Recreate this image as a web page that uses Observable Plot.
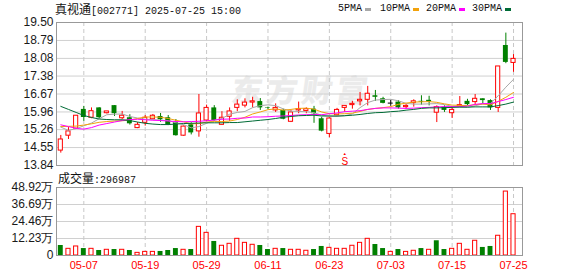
<!DOCTYPE html>
<html>
<head>
<meta charset="utf-8">
<script src="https://cdn.jsdelivr.net/npm/d3@7"></script>
<script src="https://cdn.jsdelivr.net/npm/@observablehq/plot@0.6"></script>
<style>
  html, body { margin: 0; padding: 0; background: #fff; }
  #wrap { position: relative; width: 578px; height: 276px; overflow: hidden; background: #fff; }
  #wrap svg { position: absolute; left: 0; }
  .t { position: absolute; white-space: nowrap; line-height: 14px; height: 14px; color: #111; }
  .cjk { font-family: "Noto Sans CJK SC", sans-serif; font-size: 12px; }
  .mono { font-family: "Liberation Mono", "DejaVu Sans Mono", monospace; font-size: 10px; }
  .sw { position: absolute; width: 6px; height: 3px; }
  #wm { position: absolute; left: 232px; top: 66px; font-family: "Noto Sans CJK SC", sans-serif; font-weight: 900;
        font-size: 31px; color: #ebebeb; letter-spacing: 4px; transform: skewX(-8deg); white-space: nowrap; }
</style>
</head>
<body>
<div id="wrap">
  <div id="wm">东方财富</div>
  <div class="t" style="left:55px;top:2px;"><span class="cjk">真视通</span><span class="mono">[002771] 2025-07-25 15:00</span></div>
  <div class="t mono" style="left:338px;top:2px;">5PMA</div><div class="sw" style="left:365px;top:8px;background:#a8a8a8"></div>
  <div class="t mono" style="left:380px;top:2px;">10PMA</div><div class="sw" style="left:413px;top:8px;background:#f2a20c"></div>
  <div class="t mono" style="left:426px;top:2px;">20PMA</div><div class="sw" style="left:459px;top:8px;background:#ff00ff"></div>
  <div class="t mono" style="left:472px;top:2px;">30PMA</div><div class="sw" style="left:505px;top:8px;background:#006b36"></div>
  <div class="t" style="left:58px;top:171px;"><span class="cjk">成交量</span><span class="mono">:296987</span></div>
</div>
<script>
// ---------------- data ----------------
const dates = [
  "2025-04-29","2025-04-30","2025-05-06","2025-05-07","2025-05-08","2025-05-09","2025-05-12","2025-05-13","2025-05-14","2025-05-15",
  "2025-05-16","2025-05-19","2025-05-20","2025-05-21","2025-05-22","2025-05-23","2025-05-26","2025-05-27","2025-05-28","2025-05-29",
  "2025-05-30","2025-06-03","2025-06-04","2025-06-05","2025-06-06","2025-06-09","2025-06-10","2025-06-11","2025-06-12","2025-06-13",
  "2025-06-16","2025-06-17","2025-06-18","2025-06-19","2025-06-20","2025-06-23","2025-06-24","2025-06-25","2025-06-26","2025-06-27",
  "2025-06-30","2025-07-01","2025-07-02","2025-07-03","2025-07-04","2025-07-07","2025-07-08","2025-07-09","2025-07-10","2025-07-11",
  "2025-07-14","2025-07-15","2025-07-16","2025-07-17","2025-07-18","2025-07-21","2025-07-22","2025-07-23","2025-07-24","2025-07-25"
];
const open = [
  14.43,15.02,15.30,16.06,15.73,16.12,15.91,16.21,15.71,15.73,
  15.32,15.53,15.67,15.78,15.73,15.54,15.02,15.45,15.19,15.62,
  16.12,15.45,15.77,16.12,16.21,16.33,16.37,16.12,16.02,16.02,
  15.57,16.02,16.00,16.07,15.69,15.09,15.83,16.12,16.23,16.38,
  16.44,16.60,16.48,16.31,16.35,16.15,16.31,16.38,16.42,15.93,
  16.14,15.91,16.17,16.38,16.35,16.48,16.41,16.12,18.59,17.90
];
const high = [
  15.03,15.34,15.82,16.18,16.12,16.13,15.98,16.21,15.98,15.85,
  15.54,15.82,15.86,15.90,15.82,15.66,15.40,15.53,16.65,16.23,
  16.21,15.97,16.12,16.44,16.48,16.54,16.49,16.14,16.28,16.07,
  16.02,16.35,16.12,16.18,15.75,15.73,16.10,16.20,16.38,16.73,
  16.97,16.81,16.54,16.42,16.41,16.25,16.44,16.60,16.58,16.20,
  16.20,16.15,16.57,16.46,16.65,16.48,16.44,17.76,19.08,18.23
];
const low = [
  14.33,14.87,15.27,15.59,15.69,15.70,15.88,15.78,15.65,15.44,
  15.30,15.40,15.65,15.55,15.42,15.00,15.00,15.05,14.96,15.59,
  15.59,15.44,15.59,15.97,16.12,16.12,16.02,16.06,15.94,15.65,
  15.54,15.89,15.89,15.51,15.17,14.94,15.81,15.95,16.07,16.20,
  16.20,16.38,16.28,16.18,16.07,16.07,16.15,16.23,16.20,15.54,
  15.94,15.70,16.15,16.20,16.20,16.28,16.02,15.94,17.87,17.53
];
const close = [
  14.87,15.19,15.81,15.74,15.99,15.73,15.98,15.89,15.81,15.49,
  15.45,15.73,15.81,15.65,15.45,15.02,15.38,15.13,15.90,16.12,
  15.62,15.73,15.98,16.25,16.33,16.38,16.12,16.10,16.12,15.67,
  15.94,16.07,16.07,15.89,15.20,15.70,16.04,16.20,16.28,16.44,
  16.68,16.54,16.30,16.31,16.12,16.20,16.38,16.35,16.36,16.15,
  16.02,16.04,16.23,16.25,16.48,16.41,16.12,17.76,17.92,18.06
];
// volume in 万
const volume = [
  7.2,4.8,6.5,5.0,4.8,3.6,4.1,4.3,4.1,3.6,
  1.9,2.6,2.6,2.9,3.6,5.0,4.1,4.3,20.6,16.3,
  10.1,7.0,8.4,12.0,9.1,7.7,7.2,4.3,4.8,5.0,
  4.1,4.1,3.4,4.3,6.5,5.5,4.8,4.8,7.0,9.1,
  12.0,7.9,5.0,2.6,4.3,2.6,3.4,5.0,4.1,10.6,
  4.3,4.8,8.4,4.1,10.6,5.8,6.5,14.2,46.0,29.70
];
// volume bar direction: 1 = up day, -1 = down day
const volumeDir = [
  -1,1,1,-1,1,-1,1,-1,1,-1,
  1,1,1,-1,-1,-1,1,-1,1,1,
  -1,1,1,1,1,1,-1,-1,1,-1,
  1,1,1,-1,-1,1,1,1,1,1,
  1,-1,-1,1,-1,1,1,-1,1,-1,
  -1,1,1,1,1,-1,-1,1,1,1
];
const ma5 = [
  15.36,15.23,15.30,15.41,15.52,15.69,15.85,15.87,15.88,15.78,
  15.72,15.67,15.66,15.63,15.62,15.53,15.46,15.33,15.38,15.51,
  15.63,15.70,15.87,15.94,15.98,16.13,16.21,16.24,16.21,16.08,
  15.99,15.98,15.97,15.93,15.83,15.79,15.78,15.81,15.88,16.13,
  16.33,16.43,16.45,16.46,16.40,16.30,16.27,16.27,16.28,16.29,
  16.25,16.18,16.16,16.14,16.20,16.28,16.30,16.60,16.94,17.25
];
const ma10 = [
  15.38,15.39,15.40,15.44,15.49,15.55,15.58,15.60,15.61,15.64,
  15.70,15.76,15.76,15.75,15.70,15.63,15.57,15.49,15.50,15.56,
  15.58,15.58,15.60,15.66,15.75,15.88,15.96,16.05,16.08,16.03,
  16.06,16.10,16.11,16.07,15.96,15.89,15.88,15.89,15.91,15.98,
  16.06,16.10,16.13,16.17,16.26,16.31,16.35,16.36,16.37,16.34,
  16.28,16.23,16.22,16.21,16.25,16.27,16.24,16.38,16.54,16.73
];
const ma20 = [
  15.45,15.38,15.31,15.28,15.34,15.44,15.50,15.56,15.62,15.66,
  15.67,15.65,15.63,15.62,15.60,15.58,15.57,15.58,15.59,15.61,
  15.64,15.67,15.68,15.71,15.72,15.76,15.76,15.77,15.79,15.80,
  15.82,15.84,15.85,15.86,15.85,15.89,15.92,15.97,15.99,16.01,
  16.06,16.10,16.12,16.12,16.11,16.10,16.11,16.13,16.14,16.16,
  16.17,16.17,16.17,16.19,16.26,16.29,16.29,16.37,16.45,16.54
];
const ma30 = [
  16.18,16.06,15.94,15.82,15.74,15.68,15.66,15.65,15.65,15.62,
  15.56,15.51,15.48,15.46,15.46,15.48,15.50,15.51,15.52,15.53,
  15.53,15.53,15.54,15.54,15.57,15.60,15.63,15.66,15.70,15.75,
  15.78,15.81,15.82,15.83,15.80,15.80,15.80,15.81,15.83,15.86,
  15.90,15.93,15.94,15.97,15.99,16.03,16.06,16.10,16.12,16.12,
  16.13,16.14,16.15,16.15,16.16,16.16,16.16,16.21,16.27,16.35
];
const priceTicks = [13.84,14.55,15.26,15.96,16.67,17.38,18.08,18.79,19.50];
const volumeTicks = [0,12.23,24.46,36.69,48.92];
const xTickDates = ["2025-05-07","2025-05-19","2025-05-29","2025-06-11","2025-06-23","2025-07-03","2025-07-15","2025-07-25"];
const signalDates = ["2025-06-25"];
const signalLabels = ["S"];

// ---------------- build ----------------
const RED = "#ff0000", GREEN = "#008000";
const rows = dates.map((d, i) => ({
  i, date: d, open: open[i], high: high[i], low: low[i], close: close[i],
  volume: volume[i], vdir: volumeDir[i],
  ma5: ma5[i], ma10: ma10[i], ma20: ma20[i], ma30: ma30[i]
}));
const idx = d => dates.indexOf(d);
const tickIdx = xTickDates.map(idx);
const signals = signalDates.map((d, k) => ({i: idx(d), label: signalLabels[k]}));
const up = d => d.close > d.open, down = d => d.close < d.open, flat = d => d.close === d.open;
const xDomain = [-0.56, 60.17];
const style = {background: "transparent", fontFamily: "'Liberation Sans', Arial, sans-serif", fontSize: "12px", overflow: "visible"};
const hw1 = 0.27, hw2 = 0.32;

const price = Plot.plot({
  width: 578, height: 170, marginTop: 22, marginBottom: 5, marginLeft: 56, marginRight: 56,
  style,
  x: {domain: xDomain, axis: null},
  y: {domain: [13.84, 19.50], axis: null},
  marks: [
    Plot.ruleY(priceTicks, {stroke: "#d0d0d0"}),
    Plot.ruleX(tickIdx, {stroke: "#c8c8c8", strokeDasharray: "4,3"}),
    Plot.ruleX(rows, {filter: up, x: "i", y1: "low", y2: "high", stroke: RED}),
    Plot.ruleX(rows, {filter: down, x: "i", y1: "low", y2: "high", stroke: GREEN}),
    Plot.ruleX(rows, {filter: flat, x: "i", y1: "low", y2: "high", stroke: "#000"}),
    Plot.rect(rows, {filter: up, x1: d => d.i - hw1, x2: d => d.i + hw1, y1: "open", y2: "close", fill: "white", stroke: RED}),
    Plot.rect(rows, {filter: down, x1: d => d.i - hw2, x2: d => d.i + hw2, y1: "open", y2: "close", fill: GREEN}),
    Plot.ruleY(rows, {filter: flat, y: "open", x1: d => d.i - hw2, x2: d => d.i + hw2, stroke: "#000"}),
    Plot.line(rows, {x: "i", y: "ma5", stroke: "#a8a8a8", strokeWidth: 1}),
    Plot.line(rows, {x: "i", y: "ma10", stroke: "#f2a20c", strokeWidth: 1}),
    Plot.line(rows, {x: "i", y: "ma20", stroke: "#ff00ff", strokeWidth: 1}),
    Plot.line(rows, {x: "i", y: "ma30", stroke: "#006b36", strokeWidth: 1}),
    Plot.text(priceTicks, {y: d => d, frameAnchor: "left", textAnchor: "end", dx: -3, text: d => d.toFixed(2), fill: "#1a1a1a", fontSize: 12}),
    Plot.text(signals, {x: "i", frameAnchor: "bottom", text: "label", fill: RED, fontSize: 10, lineAnchor: "bottom", dy: -1}),
    Plot.text(signals, {x: "i", frameAnchor: "bottom", text: () => "▲", fill: RED, fontSize: 4, lineAnchor: "bottom", dy: -11}),
    Plot.frame({stroke: "#999"})
  ]
});
price.style.top = "0px";

const vol = Plot.plot({
  width: 578, height: 106, marginTop: 17, marginBottom: 21, marginLeft: 56, marginRight: 56,
  style,
  x: {domain: xDomain, axis: null},
  y: {domain: [0, 48.92], axis: null},
  marks: [
    Plot.ruleY(volumeTicks, {stroke: "#d0d0d0"}),
    Plot.ruleX(tickIdx, {stroke: "#c8c8c8", strokeDasharray: "4,3"}),
    Plot.rect(rows, {filter: d => d.vdir > 0, x1: d => d.i - hw1, x2: d => d.i + hw1, y1: 0, y2: "volume", fill: "white", stroke: RED}),
    Plot.rect(rows, {filter: d => d.vdir < 0, x1: d => d.i - hw2, x2: d => d.i + hw2, y1: 0, y2: "volume", fill: GREEN}),
    Plot.text(volumeTicks, {y: d => d, frameAnchor: "left", textAnchor: "end", dx: -3, text: d => d === 0 ? "0" : d.toFixed(2) + "万", fill: "#1a1a1a", fontSize: 12}),
    Plot.text(tickIdx, {x: d => d, frameAnchor: "bottom", lineAnchor: "top", dy: 6, text: d => dates[d].slice(5), fill: RED, fontSize: 11}),
    Plot.frame({stroke: "#999"})
  ]
});
vol.style.top = "170px";

const wrap = document.getElementById("wrap");
wrap.appendChild(price);
wrap.appendChild(vol);
</script>
</body>
</html>
